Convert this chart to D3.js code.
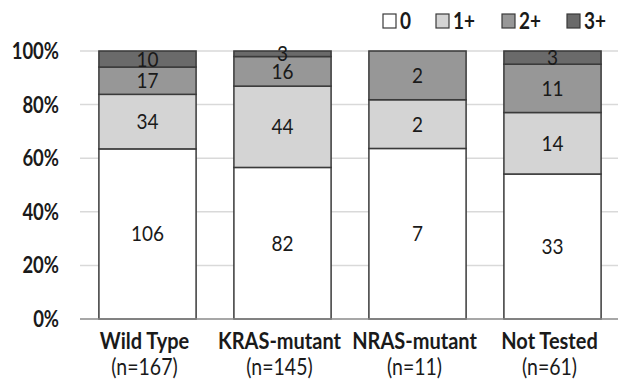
<!DOCTYPE html>
<html>
<head>
<meta charset="utf-8">
<script src="https://cdn.jsdelivr.net/npm/d3@7"></script>
<style>
  body { margin: 0; background: #fff; }
  svg { display: block; font-family: Lato, "Open Sans", sans-serif; }
</style>
</head>
<body>
<div class="chart"></div>
<script>
// data
const categories = ["Wild Type", "KRAS-mutant", "NRAS-mutant", "Not Tested"]
const nLabels = ["(n=167)", "(n=145)", "(n=11)", "(n=61)"]
const levels = ["0", "1+", "2+", "3+"]
const score0 = [106, 82, 7, 33]
const score1 = [34, 44, 2, 14]
const score2 = [17, 16, 2, 11]
const score3 = [10, 3, 0, 3]
const yTicks = [0, 0.2, 0.4, 0.6, 0.8, 1]

const colors = ["#ffffff", "#d4d4d4", "#979797", "#6a6a6a"]
const stretch = 1.18 //原图文字被纵向拉伸

let width = 618, height = 380
let svg = d3.select(".chart").append("svg")
    .attr("width", width)
    .attr("height", height)

let rows = categories.map((c, i) => ({
    cat: c, "0": score0[i], "1+": score1[i], "2+": score2[i], "3+": score3[i]
}))
let series = d3.stack().keys(levels).offset(d3.stackOffsetExpand)(rows)

let x = d3.scaleBand().domain(categories).range([80, 620]).paddingInner(0.28).paddingOuter(0.14)
let y = d3.scaleLinear().domain([0, 1]).range([319, 51])

function at(fx, fy, s = stretch) {
    return (d, i) => `translate(${fx(d, i)},${fy(d, i)}) scale(1,${s})`
}

// gridlines
svg.append("g").selectAll("line")
    .data(yTicks.filter(d => d > 0))
    .enter().append("line")
    .attr("x1", 80).attr("x2", 618)
    .attr("y1", d => y(d)).attr("y2", d => y(d))
    .attr("stroke", "#d9d9d9").attr("stroke-width", 1.5)

// y tick labels
svg.append("g").selectAll("text")
    .data(yTicks)
    .enter().append("text")
    .attr("transform", at(() => 59, d => y(d) + 8))
    .attr("text-anchor", "end")
    .attr("font-size", 18.5).attr("font-weight", "bold")
    .attr("fill", "#1a1a1a")
    .text(d3.format(".0%"))

// bars
let segG = svg.append("g")
series.forEach((s, si) => {
    segG.append("g").selectAll("rect")
        .data(s.filter(d => d[1] > d[0]))
        .enter().append("rect")
        .attr("x", d => x(d.data.cat))
        .attr("y", d => y(d[1]))
        .attr("width", x.bandwidth())
        .attr("height", d => y(d[0]) - y(d[1]))
        .attr("fill", colors[si])
        .attr("stroke", "#3a3a3a").attr("stroke-width", 1.5)
})

// value labels
series.forEach((s, si) => {
    svg.append("g").selectAll("text")
        .data(s.filter(d => d[1] > d[0]))
        .enter().append("text")
        .attr("transform", at(d => x(d.data.cat) + x.bandwidth() / 2, d => (y(d[0]) + y(d[1])) / 2 + 7.5, 1.1))
        .attr("text-anchor", "middle")
        .attr("font-size", 19)
        .attr("fill", "#1a1a1a")
        .text(d => d.data[s.key])
})

// x axis line
svg.append("line")
    .attr("x1", 80).attr("x2", 618)
    .attr("y1", y(0)).attr("y2", y(0))
    .attr("stroke", "#8a8a8a").attr("stroke-width", 1.5)

// x labels
let xl = svg.append("g")
xl.selectAll("text.cat")
    .data(categories)
    .enter().append("text")
    .attr("class", "cat")
    .attr("transform", at(d => x(d) + x.bandwidth() / 2 - 3, () => 349))
    .attr("text-anchor", "middle")
    .attr("font-size", 20).attr("font-weight", "bold")
    .attr("fill", "#1a1a1a")
    .text(d => d)
xl.selectAll("text.n")
    .data(nLabels)
    .enter().append("text")
    .attr("class", "n")
    .attr("transform", at((d, i) => x(categories[i]) + x.bandwidth() / 2 - 3, () => 375))
    .attr("text-anchor", "middle")
    .attr("font-size", 19.5)
    .attr("fill", "#1a1a1a")
    .text(d => d)

// legend
let legendX = [383, 436, 502, 567]
let legend = svg.append("g")
levels.forEach((l, i) => {
    legend.append("rect")
        .attr("x", legendX[i]).attr("y", 14)
        .attr("width", 13).attr("height", 14)
        .attr("fill", colors[i])
        .attr("stroke", "#3a3a3a").attr("stroke-width", 1.2)
    legend.append("text")
        .attr("transform", `translate(${legendX[i] + 17},29) scale(1,${stretch})`)
        .attr("font-size", 19).attr("font-weight", "bold")
        .attr("fill", "#1a1a1a")
        .text(l)
})
</script>
</body>
</html>
